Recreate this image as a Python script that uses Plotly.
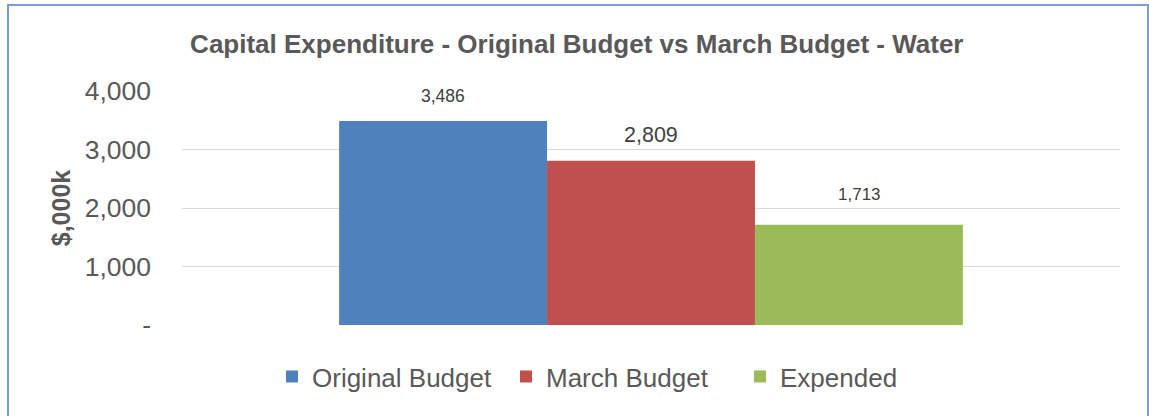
"""Capital expenditure bar chart - Water."""
import plotly.graph_objects as go

series = ["Original Budget", "March Budget", "Expended"]
values = [3486, 2809, 1713]
colors = ["#4F81BD", "#C0504D", "#9BBB59"]
tick_vals = [0, 1000, 2000, 3000, 4000]
tick_text = ["-", "1,000", "2,000", "3,000", "4,000"]

# label styling (Excel had mixed label sizes)
label_sizes = [17.5, 21.5, 17]
label_lift = [25, 26, 30]

FONT = "Liberation Sans, Arial, sans-serif"
GREY = "#595959"

fig = go.Figure()
for name, val, col in zip(series, values, colors):
    fig.add_trace(go.Bar(
        x=["Water"], y=[val], name=name,
        marker=dict(color=col, line=dict(width=0)),
    ))

for i, (val, size, lift) in enumerate(zip(values, label_sizes, label_lift)):
    fig.add_annotation(
        x="Water", y=val, text=f"{val:,}", showarrow=False,
        xshift=(i - 1) * 208, yshift=lift,
        font=dict(family=FONT, size=size, color="#404040"),
    )

fig.update_layout(
    width=1149, height=416,
    barmode="group", bargap=0.335, bargroupgap=0,
    paper_bgcolor="white", plot_bgcolor="white",
    margin=dict(l=182, r=29, t=91, b=91),
    font=dict(family=FONT, color=GREY),
    title=dict(
        text="<b>Capital Expenditure - Original Budget vs March Budget - Water</b>",
        x=0.502, xanchor="center", y=0.895, yanchor="middle",
        font=dict(family=FONT, size=26, color=GREY),
    ),
    legend=dict(
        orientation="h", x=(272 - 182) / 938, xanchor="left", y=-0.12, yanchor="top",
        font=dict(family=FONT, size=26, color=GREY),
        itemwidth=30, entrywidth=189, entrywidthmode="pixels", traceorder="normal",
    ),
    showlegend=True,
)
fig.update_xaxes(showticklabels=False, showgrid=False, showline=False, zeroline=False)
fig.update_yaxes(
    range=[0, 4000], tickvals=tick_vals, ticktext=tick_text,
    showgrid=True, gridcolor="#D9D9D9", gridwidth=1,
    zeroline=False, showline=False, ticks="", ticklabelstandoff=30,
    tickfont=dict(family=FONT, size=26.5, color=GREY),
    title=dict(text="<b>$,000k</b>", font=dict(family=FONT, size=25, color=GREY), standoff=6),
)

# outer chart frame (blue border at top and left)
fig.add_shape(
    type="rect", xref="paper", yref="paper",
    x0=(8 - 182) / 938, x1=(1148 - 182) / 938,
    y0=(325 - 430) / 234, y1=(325 - 5) / 234,
    line=dict(color="#7A9ED4", width=2), layer="below",
)

# drop the default page margin so the chart sits at the window origin
fig.write_html(
    "out.html",
    config={"displayModeBar": False},
    post_script="document.body.style.margin='0';",
)
